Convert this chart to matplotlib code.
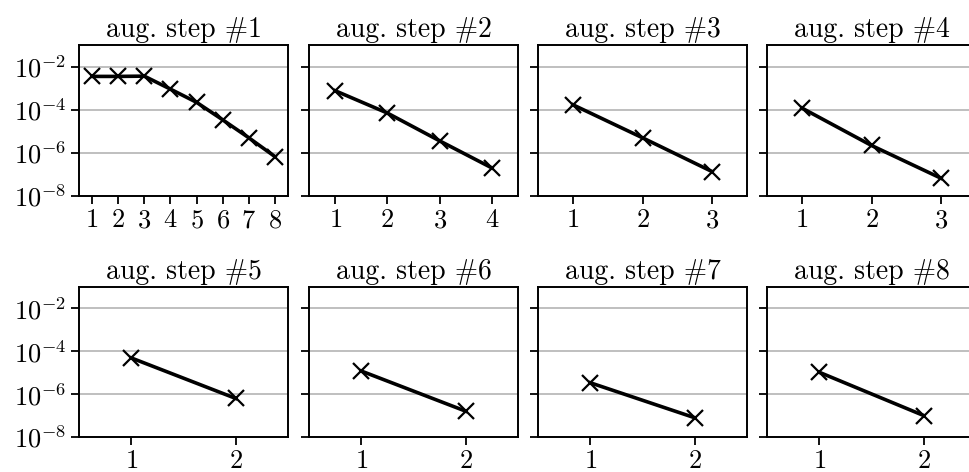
import numpy as np
import matplotlib
matplotlib.use("Agg")
import matplotlib.pyplot as plt
from matplotlib.ticker import FixedLocator, NullLocator, LogFormatterMathtext

plt.rcParams["font.family"] = "serif"
plt.rcParams["font.serif"] = ["cmr10", "DejaVu Serif"]
plt.rcParams["mathtext.fontset"] = "cm"
plt.rcParams["axes.formatter.use_mathtext"] = True

# residual after each iteration, per augmentation step
step1 = [3.5e-3, 3.5e-3, 3.6e-3, 9.0e-4, 2.2e-4, 3.4e-5, 5.0e-6, 6.7e-7]
step2 = [7.6e-4, 7.0e-5, 3.6e-6, 2.0e-7]
step3 = [1.7e-4, 5.0e-6, 1.35e-7]
step4 = [1.2e-4, 2.2e-6, 6.6e-8]
step5 = [4.9e-5, 6.3e-7]
step6 = [1.2e-5, 1.6e-7]
step7 = [3.4e-6, 7.9e-8]
step8 = [1.05e-5, 1.0e-7]
steps = [step1, step2, step3, step4, step5, step6, step7, step8]
titles = [f"aug. step #{i}" for i in range(1, 9)]
y_ticks = [1e-8, 1e-6, 1e-4, 1e-2]

W, H = 969, 472
fig = plt.figure(figsize=(W / 100, H / 100), dpi=100)

lefts = [79, 309, 538, 767]
width = 209
rows = [(45, 196), (287, 437)]

for k, vals in enumerate(steps):
    r, c = divmod(k, 4)
    top, bot = rows[r]
    ax = fig.add_axes([lefts[c] / W, 1 - bot / H, width / W, (bot - top) / H])
    x = np.arange(1, len(vals) + 1)
    ax.plot(x, vals, color="black", lw=2.6, marker="x", ms=11, mew=1.6,
            zorder=3)
    ax.set_yscale("log")
    ax.set_ylim(1e-8, 1e-1)
    ax.set_xlim(0.5, len(vals) + 0.5)
    ax.set_xticks(x)
    ax.yaxis.set_major_locator(FixedLocator(y_ticks))
    ax.yaxis.set_minor_locator(NullLocator())
    ax.yaxis.set_major_formatter(LogFormatterMathtext())
    ax.grid(axis="y", color="#b4b4b4", lw=1.2)
    ax.set_axisbelow(True)
    for s in ax.spines.values():
        s.set_linewidth(1.4)
    ax.tick_params(axis="both", which="major", length=6, width=1.3,
                   labelsize=19, direction="out", pad=3)
    if c != 0:
        ax.tick_params(axis="y", labelleft=False)
    ax.set_title(titles[k], fontsize=20, pad=6)

fig.savefig("out.png", dpi=100)
